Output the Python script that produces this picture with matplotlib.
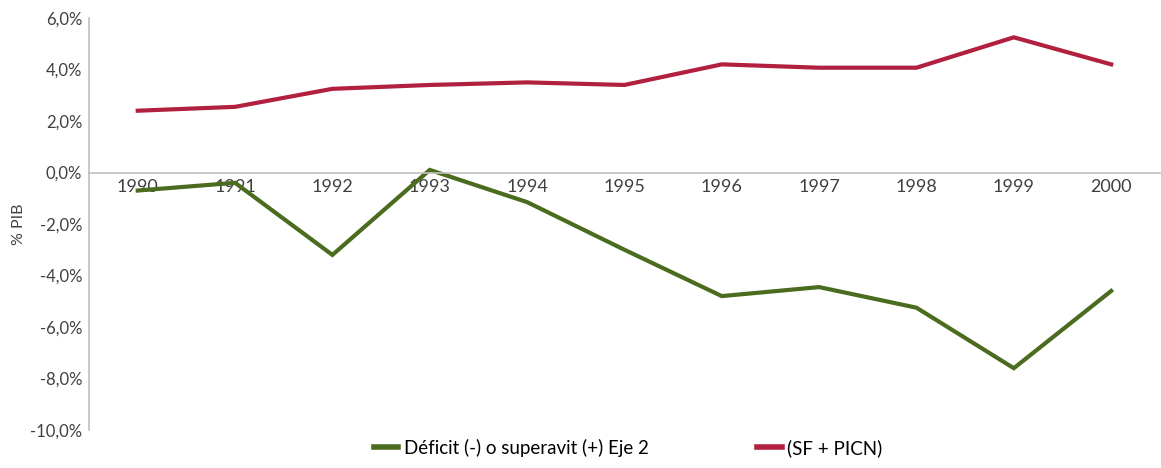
import numpy as np
import matplotlib.pyplot as plt
from matplotlib.ticker import FuncFormatter

plt.rcParams['font.family'] = ['Lato', 'DejaVu Sans']

years = ['1990', '1991', '1992', '1993', '1994', '1995', '1996', '1997', '1998', '1999', '2000']
deficit = [-0.7, -0.4, -3.2, 0.1, -1.15, -3.0, -4.8, -4.45, -5.25, -7.6, -4.6]
sf_picn = [2.4, 2.55, 3.25, 3.4, 3.5, 3.4, 4.2, 4.07, 4.07, 5.25, 4.2]

green = '#4b6b1f'
red = '#b1203f'
gray = '#c0c0c0'

fig = plt.figure(figsize=(11.61, 4.68), dpi=100)
ax = fig.add_axes([0.0767, 0.0812, 0.9223, 0.8803])

x = np.arange(len(years))
ax.plot(x, deficit, color=green, lw=3.0, solid_joinstyle='miter', label='Déficit (-) o superavit (+) Eje 2')
ax.plot(x, sf_picn, color=red, lw=3.0, solid_joinstyle='miter', label='(SF + PICN)')

ax.set_xlim(-0.5, len(years) - 0.5)
ax.set_ylim(-10, 6)
ax.set_yticks(np.arange(-10, 7, 2))
ax.yaxis.set_major_formatter(FuncFormatter(lambda v, p: f'{v:.1f}%'.replace('.', ',')))
ax.set_xticks(x)
ax.set_xticklabels(years)

for s in ['top', 'right']:
    ax.spines[s].set_visible(False)
ax.spines['bottom'].set_position(('data', 0))
ax.spines['bottom'].set_color(gray)
ax.spines['left'].set_color(gray)
ax.spines['bottom'].set_linewidth(1.2)
ax.spines['left'].set_linewidth(1.2)
ax.tick_params(axis='both', length=0, labelsize=12, colors='#404040')
ax.tick_params(axis='x', labelsize=13, pad=5)
ax.tick_params(axis='y', pad=5)
ax.set_ylabel('% PIB', fontsize=11.5, color='#404040', labelpad=3)

leg = fig.legend(loc='lower center', bbox_to_anchor=(0.541, -0.012), ncol=2, frameon=False,
                 fontsize=13.5, handlelength=1.3, columnspacing=5.8, handletextpad=0.3)
for line in leg.get_lines():
    line.set_linewidth(4)

fig.savefig('out.png', dpi=100)
